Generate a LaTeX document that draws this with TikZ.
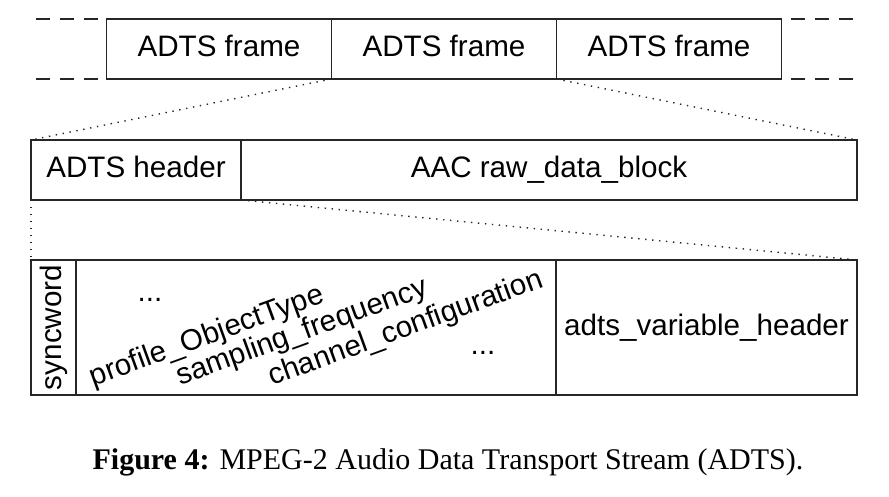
\documentclass[tikz,border=0pt]{standalone}
\usepackage{fontspec}
\setmainfont{Liberation Serif}
\newfontfamily\helv{Liberation Sans}
\usepackage{xcolor}
\usetikzlibrary{shapes,arrows,positioning,calc}

\begin{document}
\begin{tikzpicture}[x=0.5pt,y=-0.5pt]
  \tikzstyle{field}=[rectangle, draw=black!85, line width=0.7pt, inner sep=0pt, outer sep=0pt, text height=11pt, text depth=3pt, font=\helv\fontsize{14.8}{17}\selectfont]
  \tikzstyle{txt}=[inner sep=0pt, font=\helv\fontsize{14.8}{17}\selectfont]
  \tikzstyle{zoomline}=[black!85, line width=0.7pt, dash pattern=on 0.7pt off 2.8pt]
  \tikzstyle{cont}=[black!85, line width=0.7pt, dash pattern=on 7pt off 5pt]

  \useasboundingbox (0,0) rectangle (889,497);

  % Flujo de tramas ADTS
  \node[field, minimum width=112.5pt, minimum height=30pt] (f1) at (219,49) {ADTS frame};
  \node[field, minimum width=112.5pt, minimum height=30pt] (f2) at (444,49) {ADTS frame};
  \node[field, minimum width=112.5pt, minimum height=30pt] (f3) at (669,49) {ADTS frame};
  \coordinate (lt) at (36,19);
  \coordinate (lb) at (36,79);
  \coordinate (rt) at (853,19);
  \coordinate (rb) at (853,79);
  \draw[cont] (lt) -- (f1.north west);
  \draw[cont] (lb) -- (f1.south west);
  \draw[cont] (rt) -- (f3.north east);
  \draw[cont] (rb) -- (f3.south east);

  % Trama
  \node[field, minimum width=105pt, minimum height=30pt] (hdr) at (136,170) {ADTS header};
  \node[field, minimum width=308pt, minimum height=30pt] (raw) at (549,170) {AAC raw\_data\_block};
  \draw[zoomline] (f2.south west) -- (hdr.north west);
  \draw[zoomline] (f2.south east) -- (raw.north east);

  % Cabecera
  \node[field, minimum width=22.5pt, minimum height=67.5pt] (sync) at (53.5,327.5) {};
  \node[txt, rotate=90] (syncw) at (sync.center) {syncword};
  \node[field, minimum width=240pt, minimum height=67.5pt] (flds) at (316,327.5) {};
  \node[field, minimum width=150.5pt, minimum height=67.5pt] (var) at (706.5,327.5) {adts\_variable\_header};
  \draw[zoomline] (hdr.south west) -- (sync.north west);
  \draw[zoomline] (hdr.south east) -- (var.north east);

  % Campos fijos
  \node[txt] (dots1) at (150,300) {...};
  \node[txt, rotate=20] (prof) at (207,337) {profile\_ObjectType};
  \node[txt, rotate=20] (samp) at (302,333) {sampling\_frequency};
  \node[txt, rotate=20] (chan) at (406,329) {channel\_configuration};
  \node[txt] (dots2) at (483,353) {...};

  % Pie
  \node[font=\fontsize{15}{18}\selectfont] (cap) at (448,462) {\textbf{Figure 4:} MPEG-2 Audio Data Transport Stream (ADTS).};
\end{tikzpicture}
\end{document}
